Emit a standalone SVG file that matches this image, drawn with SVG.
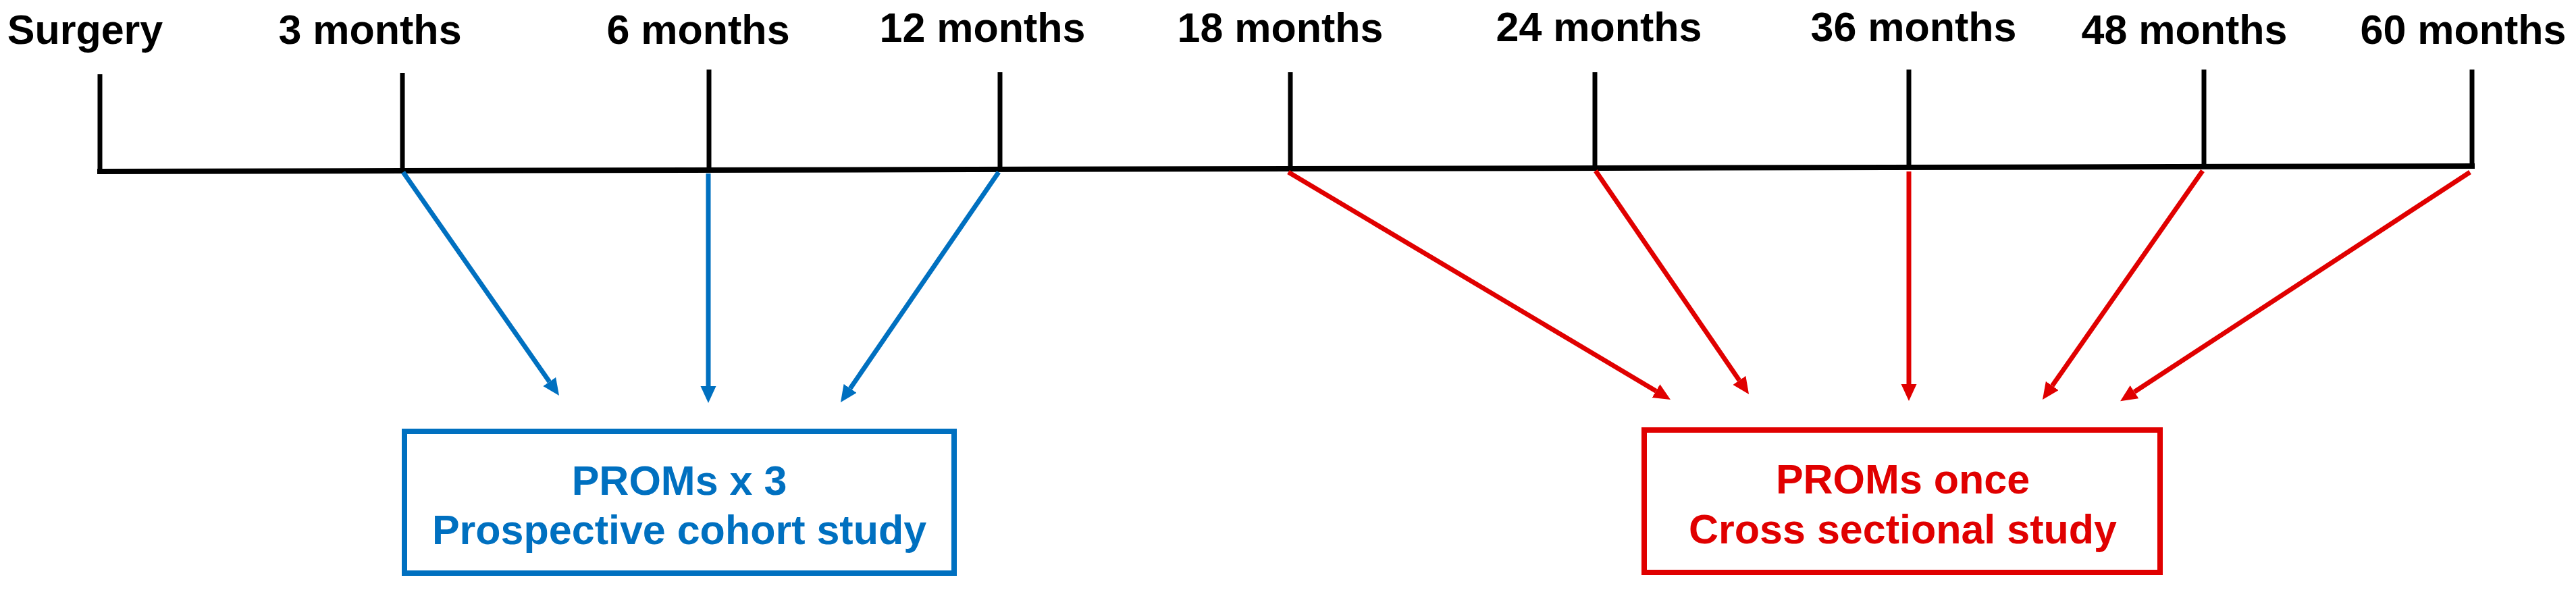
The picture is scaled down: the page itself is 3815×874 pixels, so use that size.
<svg xmlns="http://www.w3.org/2000/svg" width="3815" height="874" viewBox="0 0 3815 874">
<style>
text{font-family:"Liberation Sans",Arial,sans-serif;font-weight:bold;font-size:61px;text-anchor:middle}
.lbl{fill:#000}
.tick{stroke:#000;stroke-width:7;fill:none}
.axis{stroke:#000;stroke-width:8;fill:none}
.blue{stroke:#0070C0;stroke-width:7;fill:none}
.red{stroke:#E00000;stroke-width:7;fill:none}
.bt{fill:#0070C0}
.rt{fill:#E00000}
</style>
<defs>
<marker id="ab" markerUnits="userSpaceOnUse" markerWidth="26" markerHeight="24" refX="0" refY="11.5" orient="auto" viewBox="0 0 26 24">
<path d="M0,0 L25,11.5 L0,23 Z" fill="#0070C0"/>
</marker>
<marker id="ar" markerUnits="userSpaceOnUse" markerWidth="26" markerHeight="24" refX="0" refY="11.5" orient="auto" viewBox="0 0 26 24">
<path d="M0,0 L25,11.5 L0,23 Z" fill="#E00000"/>
</marker>
</defs>
<g id="timeline">
<line class="axis" x1="144" y1="254" x2="3665" y2="246"/>
<line class="tick" x1="148" y1="110" x2="148" y2="254"/>
<line class="tick" x1="596" y1="108" x2="596" y2="252"/>
<line class="tick" x1="1050" y1="103" x2="1050" y2="250"/>
<line class="tick" x1="1481" y1="107" x2="1481" y2="250"/>
<line class="tick" x1="1911" y1="107" x2="1911" y2="250"/>
<line class="tick" x1="2362" y1="107" x2="2362" y2="249"/>
<line class="tick" x1="2827" y1="103" x2="2827" y2="248"/>
<line class="tick" x1="3264" y1="103" x2="3264" y2="247"/>
<line class="tick" x1="3661" y1="103" x2="3661" y2="247"/>
</g>
<g id="labels">
<text class="lbl" x="126" y="65">Surgery</text>
<text class="lbl" x="548" y="65">3 months</text>
<text class="lbl" x="1034" y="65">6 months</text>
<text class="lbl" x="1455" y="62">12 months</text>
<text class="lbl" x="1896" y="62">18 months</text>
<text class="lbl" x="2368" y="61">24 months</text>
<text class="lbl" x="2834" y="61">36 months</text>
<text class="lbl" x="3235" y="65">48 months</text>
<text class="lbl" x="3648" y="65">60 months</text>
</g>
<g id="connectors">
<line class="blue" x1="597" y1="255" x2="813.7" y2="565.5" marker-end="url(#ab)"/>
<line class="blue" x1="1049" y1="257" x2="1049" y2="572" marker-end="url(#ab)"/>
<line class="blue" x1="1479" y1="255" x2="1259.1" y2="575.4" marker-end="url(#ab)"/>
<line class="red" x1="1908" y1="255" x2="2452.5" y2="579.2" marker-end="url(#ar)"/>
<line class="red" x1="2363" y1="253" x2="2575.9" y2="563.4" marker-end="url(#ar)"/>
<line class="red" x1="2827" y1="254" x2="2827" y2="569" marker-end="url(#ar)"/>
<line class="red" x1="3262" y1="253" x2="3039.3" y2="571.5" marker-end="url(#ar)"/>
<line class="red" x1="3658" y1="255" x2="3161" y2="580.5" marker-end="url(#ar)"/>
</g>
<g id="prospective">
<rect x="599" y="639" width="814" height="210" fill="#fff" stroke="#0070C0" stroke-width="8"/>
<text class="bt" x="1006" y="733">PROMs x 3</text>
<text class="bt" x="1006" y="806">Prospective cohort study</text>
</g>
<g id="crosssectional">
<rect x="2435" y="637" width="764" height="211" fill="#fff" stroke="#E00000" stroke-width="8"/>
<text class="rt" x="2818" y="731">PROMs once</text>
<text class="rt" x="2818" y="805">Cross sectional study</text>
</g>
</svg>
